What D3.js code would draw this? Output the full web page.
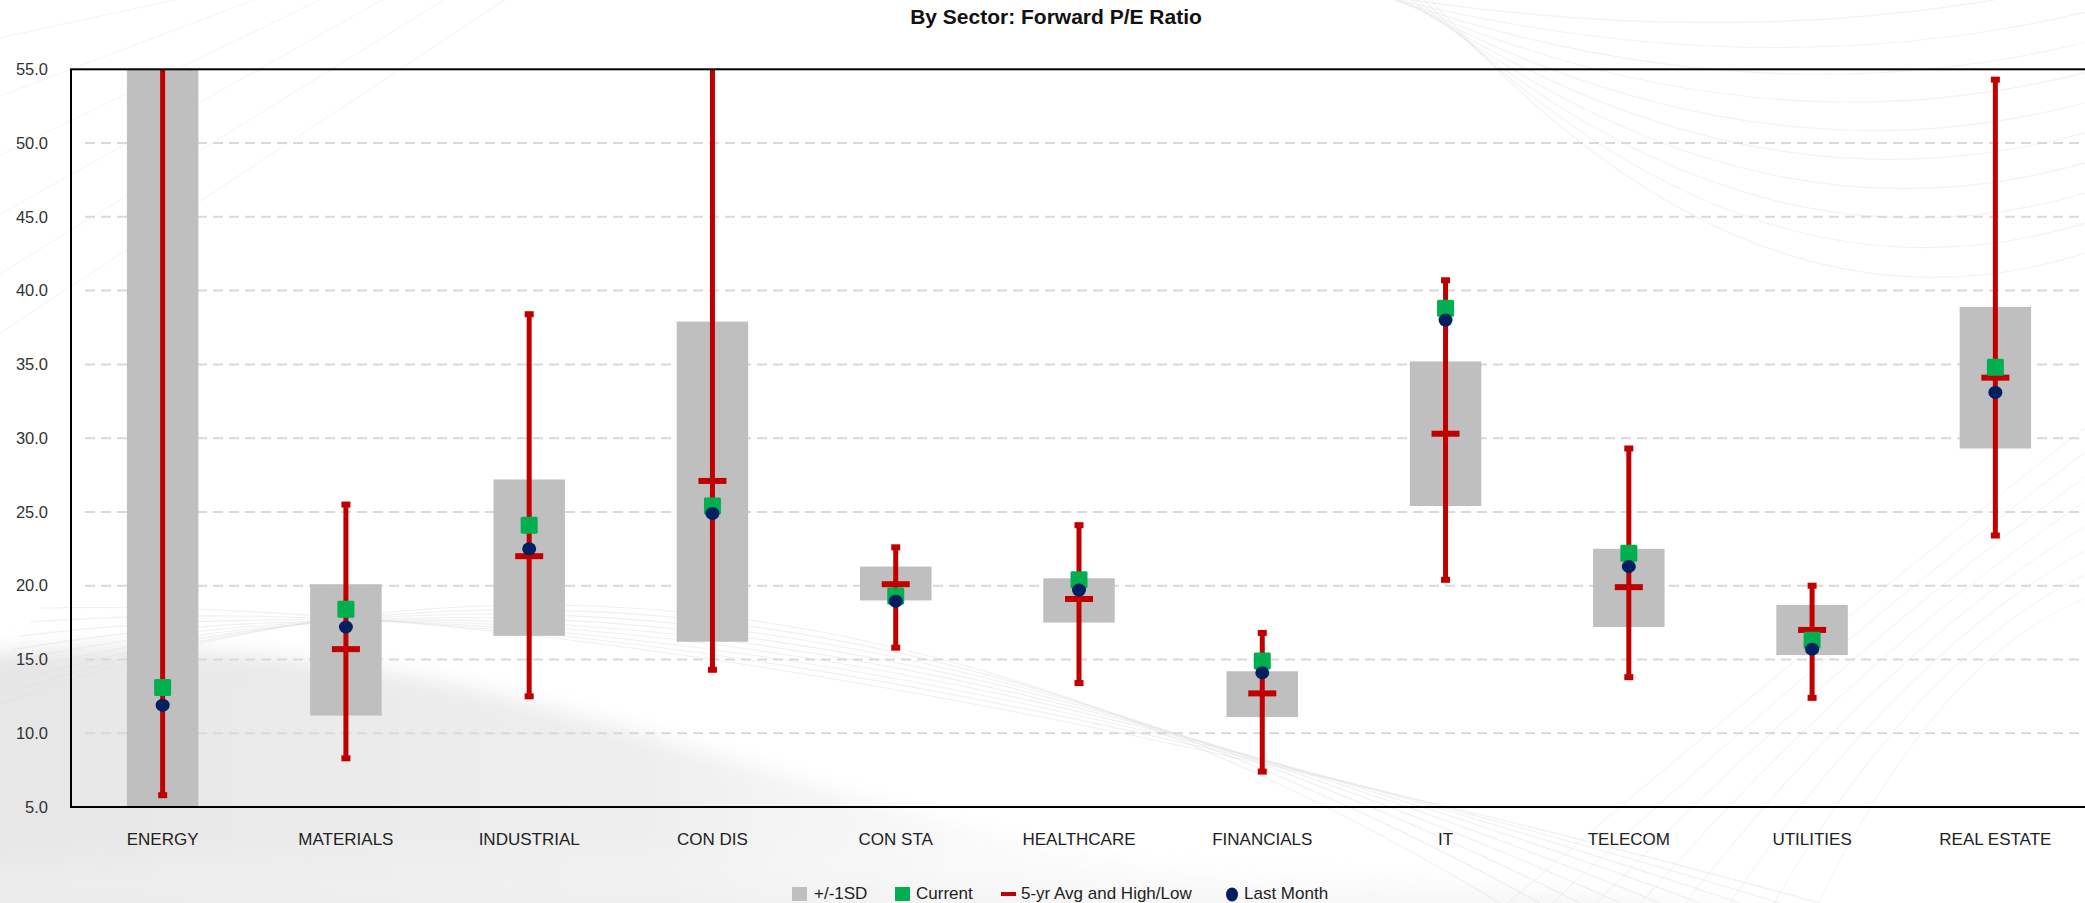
<!DOCTYPE html>
<html>
<head>
<meta charset="utf-8">
<script src="https://cdn.jsdelivr.net/npm/d3@7"></script>
<style>
  html, body { margin: 0; padding: 0; background: #fff; }
  svg { display: block; font-family: "Liberation Sans", Arial, sans-serif; }
</style>
</head>
<body>
<svg id="chart" width="2085" height="903"></svg>
<script>
// Forward P/E by sector: +/-1 standard deviation band, 5-year average with
// high/low range, current reading and last month's reading.
const categories = ["ENERGY", "MATERIALS", "INDUSTRIAL", "CON DIS", "CON STA",
  "HEALTHCARE", "FINANCIALS", "IT", "TELECOM", "UTILITIES", "REAL ESTATE"];
const sdLow     = [4.0, 11.2, 16.6, 16.2, 19.0, 17.5, 11.1, 25.4, 17.2, 15.3, 29.3];
const sdHigh    = [60.0, 20.1, 27.2, 37.9, 21.3, 20.5, 14.2, 35.2, 22.5, 18.7, 38.9];
const avg5yr    = [60.0, 15.7, 22.0, 27.1, 20.1, 19.1, 12.7, 30.3, 19.9, 17.0, 34.1];
const high5yr   = [62.0, 25.5, 38.4, 58.0, 22.6, 24.1, 16.8, 40.7, 29.3, 20.0, 54.3];
const low5yr    = [5.8, 8.3, 12.5, 14.3, 15.8, 13.4, 7.4, 20.4, 13.8, 12.4, 23.4];
const current   = [13.1, 18.4, 24.1, 25.4, 19.3, 20.4, 14.9, 38.8, 22.2, 16.3, 34.8];
const lastMonth = [11.9, 17.2, 22.5, 24.9, 18.95, 19.7, 14.1, 38.0, 21.3, 15.7, 33.1];
const yTicks    = [5, 10, 15, 20, 25, 30, 35, 40, 45, 50, 55];
const legendItems = ["+/-1SD", "Current", "5-yr Avg and High/Low", "Last Month"];

const W = 2085, H = 903;
const plot = { left: 71, right: 2087, top: 69.3, bottom: 807 };

const RED = "#c00000", GREEN = "#00b050", NAVY = "#002060", GREY = "#bfbfbf";

const svg = d3.select("#chart");

// ---- decorative backdrop ----
const defs = svg.append("defs");
const g1 = defs.append("linearGradient").attr("id", "washLeft")
  .attr("x1", "0").attr("y1", "0").attr("x2", "1").attr("y2", "0");
g1.append("stop").attr("offset", "0").attr("stop-color", "#e6e6e6");
g1.append("stop").attr("offset", "0.45").attr("stop-color", "#eeeeee");
g1.append("stop").attr("offset", "1").attr("stop-color", "#ffffff").attr("stop-opacity", 0);
const g2 = defs.append("linearGradient").attr("id", "washTop")
  .attr("x1", "0").attr("y1", "0").attr("x2", "0").attr("y2", "1");
g2.append("stop").attr("offset", "0").attr("stop-color", "#ffffff").attr("stop-opacity", 0);
g2.append("stop").attr("offset", "1").attr("stop-color", "#ececec");
const blur = defs.append("filter").attr("id", "soft").attr("x", "-10%").attr("y", "-10%")
  .attr("width", "120%").attr("height", "120%");
blur.append("feGaussianBlur").attr("stdDeviation", 10);

defs.append("clipPath").attr("id", "plotClip")
  .append("rect").attr("x", plot.left).attr("y", plot.top)
  .attr("width", plot.right - plot.left).attr("height", plot.bottom - plot.top);

const bg = svg.append("g");
bg.append("rect").attr("width", W).attr("height", H).attr("fill", "#fff");
bg.append("path")
  .attr("d", "M-30,655 C120,640 300,650 480,690 C650,730 820,790 980,830 C1150,870 1300,895 1450,920 L-30,920 Z")
  .attr("fill", "url(#washLeft)").attr("filter", "url(#soft)");
bg.append("path")
  .attr("d", "M-30,860 C250,840 600,830 1000,850 C1300,865 1600,890 1800,920 L-30,920 Z")
  .attr("fill", "url(#washTop)").attr("opacity", 0.7).attr("filter", "url(#soft)");
// faint sweeping arcs
const arcs = bg.append("g").attr("fill", "none").attr("stroke", "#e2e2e2").attr("stroke-width", 1.1);
for (let i = 0; i < 9; i++) {
  arcs.append("path").attr("d",
    `M${-40 + i * 10},${720 - i * 14} Q${700},${420 + i * 22} ${1500 + i * 40},${903}`)
    .attr("opacity", 0.5);
}
for (let i = 0; i < 10; i++) {
  arcs.append("path").attr("d",
    `M${1350 + i * 8},${-10} Q${1750},${60 + i * 34} ${2095},${-20 + i * 30}`)
    .attr("opacity", 0.45);
}
for (let i = 0; i < 8; i++) {
  arcs.append("path").attr("d",
    `M${1500 + i * 45},${910} Q${1800 + i * 20},${650} ${2095},${420 + i * 25}`)
    .attr("opacity", 0.35);
}
for (let i = 0; i < 6; i++) {
  arcs.append("path").attr("d",
    `M${-10},${40 + i * 60} L${220 + i * 60},${-10}`)
    .attr("opacity", 0.35);
}

// ---- scales ----
const x = d3.scaleBand().domain(categories).range([plot.left, plot.right]).padding(0);
const y = d3.scaleLinear().domain([5, 55]).range([plot.bottom, plot.top]);
const cx = c => x(c) + x.bandwidth() / 2;
const barW = x.bandwidth() * 0.39;

// ---- gridlines ----
svg.append("g")
  .selectAll("line").data(yTicks.filter(t => t > 5 && t < 55)).join("line")
  .attr("x1", plot.left + 14).attr("x2", plot.right)
  .attr("y1", d => y(d)).attr("y2", d => y(d))
  .attr("stroke", "#d9d9d9").attr("stroke-width", 2)
  .attr("stroke-dasharray", "10 6");

const marks = svg.append("g").attr("clip-path", "url(#plotClip)");

// +/-1SD bars
marks.selectAll("rect.sd").data(categories).join("rect").attr("class", "sd")
  .attr("x", c => cx(c) - barW / 2)
  .attr("width", barW)
  .attr("y", (c, i) => y(sdHigh[i]))
  .attr("height", (c, i) => y(sdLow[i]) - y(sdHigh[i]))
  .attr("fill", GREY);

// 5-yr high/low whiskers
marks.selectAll("line.range").data(categories).join("line").attr("class", "range")
  .attr("x1", cx).attr("x2", cx)
  .attr("y1", (c, i) => y(high5yr[i])).attr("y2", (c, i) => y(low5yr[i]))
  .attr("stroke", RED).attr("stroke-width", 5);

const capW = 9, capH = 6;
marks.selectAll("rect.capHi").data(categories).join("rect").attr("class", "capHi")
  .attr("x", c => cx(c) - capW / 2).attr("width", capW)
  .attr("y", (c, i) => y(high5yr[i]) - capH / 2).attr("height", capH)
  .attr("fill", RED);
marks.selectAll("rect.capLo").data(categories).join("rect").attr("class", "capLo")
  .attr("x", c => cx(c) - capW / 2).attr("width", capW)
  .attr("y", (c, i) => y(low5yr[i]) - capH / 2).attr("height", capH)
  .attr("fill", RED);

// 5-yr average tick
const avgW = 28, avgH = 6;
marks.selectAll("rect.avg").data(categories).join("rect").attr("class", "avg")
  .attr("x", c => cx(c) - avgW / 2).attr("width", avgW)
  .attr("y", (c, i) => y(avg5yr[i]) - avgH / 2).attr("height", avgH)
  .attr("fill", RED);

// current reading
const sq = 17;
marks.selectAll("rect.cur").data(categories).join("rect").attr("class", "cur")
  .attr("x", c => cx(c) - sq / 2).attr("width", sq)
  .attr("y", (c, i) => y(current[i]) - sq / 2).attr("height", sq)
  .attr("rx", 1.5)
  .attr("fill", GREEN);

// last month
marks.selectAll("ellipse.lm").data(categories).join("ellipse").attr("class", "lm")
  .attr("cx", cx).attr("cy", (c, i) => y(lastMonth[i]))
  .attr("rx", 7).attr("ry", 6.5)
  .attr("fill", NAVY);

// ---- frame ----
svg.append("rect")
  .attr("x", plot.left).attr("y", plot.top)
  .attr("width", plot.right - plot.left).attr("height", plot.bottom - plot.top)
  .attr("fill", "none").attr("stroke", "#000").attr("stroke-width", 2);

// ---- axes ----
const yAxis = d3.axisLeft(y).tickValues(yTicks).tickFormat(d3.format(".1f")).tickSize(0).tickPadding(23);
const yG = svg.append("g").attr("transform", `translate(${plot.left},0)`).call(yAxis);
yG.select(".domain").remove();
yG.selectAll("text").attr("font-size", 16.5).attr("fill", "#333")
  .attr("font-family", "Liberation Sans, Arial, sans-serif");

const xAxis = d3.axisBottom(x).tickSize(0).tickPadding(26);
const xG = svg.append("g").attr("transform", `translate(0,${plot.bottom})`).call(xAxis);
xG.select(".domain").remove();
xG.selectAll("text").attr("font-size", 17).attr("fill", "#222")
  .attr("font-family", "Liberation Sans, Arial, sans-serif");

// ---- title ----
svg.append("text")
  .attr("x", 1056).attr("y", 24)
  .attr("text-anchor", "middle")
  .attr("font-size", 21).attr("font-weight", "bold").attr("fill", "#111")
  .text("By Sector: Forward P/E Ratio");

// ---- legend ----
const lg = svg.append("g").attr("font-size", 17).attr("fill", "#222");
const legendX = [792, 895, 1001, 1226];
const baseY = 899;
lg.append("rect").attr("x", legendX[0]).attr("y", 887).attr("width", 15).attr("height", 14).attr("fill", GREY);
lg.append("rect").attr("x", legendX[1]).attr("y", 887).attr("width", 15).attr("height", 14).attr("fill", GREEN);
lg.append("rect").attr("x", legendX[2]).attr("y", 892).attr("width", 15).attr("height", 4).attr("fill", RED);
lg.append("ellipse").attr("cx", legendX[3] + 6).attr("cy", 894.5).attr("rx", 6).attr("ry", 7).attr("fill", NAVY);
const textOffsets = [22, 21, 20, 18];
lg.selectAll("text").data(legendItems).join("text")
  .attr("x", (d, i) => legendX[i] + textOffsets[i]).attr("y", baseY)
  .text(d => d);
</script>
</body>
</html>
